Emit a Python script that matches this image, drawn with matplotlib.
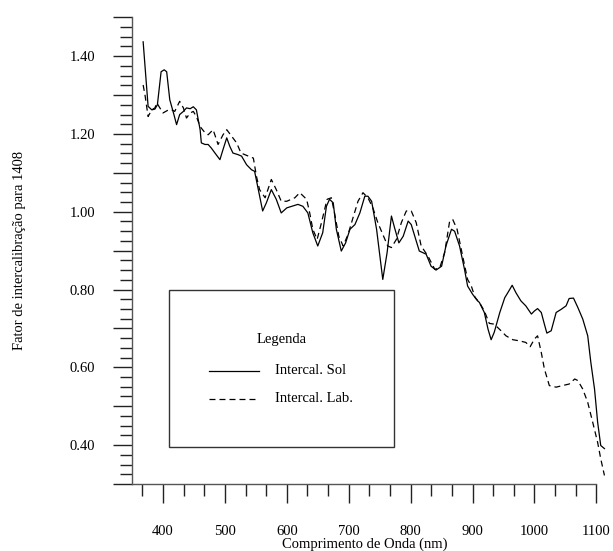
import matplotlib
matplotlib.use("Agg")
import matplotlib.pyplot as plt
import numpy as np
from matplotlib.ticker import FixedLocator, FuncFormatter
from matplotlib.patches import Rectangle
from matplotlib.lines import Line2D

plt.rcParams['font.family'] = ['Liberation Serif', 'DejaVu Serif']
plt.rcParams['lines.scale_dashes'] = False

# Intercal. Sol (solid)
sol_nm = [368, 376, 382, 387, 391, 397, 402, 406, 411, 417, 422, 427, 433, 438, 444, 449, 454, 460, 462,
          468, 473, 478, 484, 492, 497, 503, 508, 513, 521, 527, 535, 543, 548, 554, 561, 567, 575, 583,
          591, 600, 608, 618, 626, 634, 642, 650, 658, 664, 669, 675, 680, 688, 695, 702, 710, 718, 726,
          731, 737, 745, 755, 762, 769, 774, 781, 788, 796, 801, 809, 814, 825, 833, 841, 850, 857, 866,
          871, 879, 887, 892, 900, 908, 911, 919, 925, 930, 935, 944, 952, 957, 964, 970, 978, 986, 995,
          1000, 1005, 1011, 1016, 1020, 1027, 1035, 1043, 1051, 1056, 1063, 1070, 1078, 1086, 1091, 1097,
          1102, 1107, 1113]
sol_val = [1.437, 1.271, 1.262, 1.264, 1.275, 1.36, 1.365, 1.36, 1.288, 1.254, 1.224, 1.25, 1.258, 1.267,
           1.265, 1.27, 1.262, 1.211, 1.177, 1.173, 1.173, 1.164, 1.151, 1.134, 1.16, 1.19, 1.168, 1.151,
           1.147, 1.143, 1.121, 1.108, 1.104, 1.057, 1.002, 1.023, 1.057, 1.032, 0.997, 1.010, 1.014, 1.019,
           1.014, 0.997, 0.946, 0.912, 0.946, 1.014, 1.032, 1.023, 0.955, 0.899, 0.920, 0.955, 0.967, 0.997,
           1.04, 1.04, 1.027, 0.955, 0.826, 0.895, 0.989, 0.959, 0.920, 0.937, 0.976, 0.967, 0.925, 0.899,
           0.891, 0.860, 0.850, 0.860, 0.912, 0.955, 0.950, 0.912, 0.852, 0.809, 0.788, 0.771, 0.767, 0.741,
           0.698, 0.671, 0.690, 0.741, 0.779, 0.792, 0.811, 0.792, 0.771, 0.758, 0.737, 0.745, 0.751, 0.741,
           0.711, 0.688, 0.694, 0.741, 0.749, 0.758, 0.777, 0.778, 0.754, 0.724, 0.681, 0.613, 0.544, 0.459,
           0.399, 0.391]

# Intercal. Lab. (dashed)
lab_nm = [368, 371, 376, 382, 387, 390, 395, 400, 409, 414, 419, 427, 433, 438, 444, 449, 454, 460, 468,
          473, 481, 489, 497, 503, 511, 519, 526, 535, 546, 551, 556, 565, 575, 583, 591, 600, 613, 621,
          632, 637, 642, 649, 656, 665, 672, 677, 684, 691, 699, 707, 715, 723, 731, 739, 747, 755, 763,
          769, 777, 785, 793, 801, 809, 817, 828, 839, 847, 855, 863, 868, 875, 884, 892, 898, 904, 911,
          919, 927, 935, 946, 954, 965, 976, 986, 993, 1000, 1005, 1011, 1016, 1024, 1035, 1045, 1056,
          1065, 1070, 1078, 1086, 1094, 1102, 1107, 1113]
lab_val = [1.326, 1.30, 1.245, 1.262, 1.267, 1.28, 1.267, 1.254, 1.262, 1.262, 1.258, 1.284, 1.267, 1.241,
           1.254, 1.258, 1.245, 1.219, 1.203, 1.198, 1.211, 1.173, 1.198, 1.211, 1.194, 1.177, 1.151, 1.145,
           1.138, 1.091, 1.057, 1.036, 1.083, 1.057, 1.027, 1.027, 1.036, 1.049, 1.032, 0.997, 0.955, 0.929,
           0.972, 1.032, 1.036, 0.997, 0.937, 0.912, 0.942, 0.985, 1.027, 1.049, 1.036, 1.010, 0.972, 0.942,
           0.912, 0.908, 0.929, 0.972, 1.002, 1.002, 0.972, 0.912, 0.886, 0.852, 0.856, 0.895, 0.976, 0.980,
           0.955, 0.886, 0.826, 0.809, 0.78, 0.767, 0.745, 0.713, 0.711, 0.694, 0.681, 0.671, 0.668, 0.664,
           0.653, 0.673, 0.681, 0.638, 0.596, 0.553, 0.549, 0.553, 0.557, 0.570, 0.566, 0.544, 0.510, 0.459,
           0.407, 0.365, 0.322]

y_labels = ["0.40", "0.60", "0.80", "1.00", "1.20", "1.40"]
x_labels = ["400", "500", "600", "700", "800", "900", "1000", "1100"]

FS = 10.5
W, H = 613, 551
fig = plt.figure(figsize=(W / 100, H / 100), dpi=100)
left, right, top, bottom = 132, 606.3, 17.3, 484
ax = fig.add_axes([left / W, 1 - bottom / H, (right - left) / W, (bottom - top) / H])

ax.plot(sol_nm, sol_val, color='black', lw=0.9, solid_joinstyle='round')
ax.plot(lab_nm, lab_val, color='black', lw=0.9, dashes=(4.3, 2.9))

ax.set_xlim(350, 1116)
ax.set_ylim(0.3, 1.5)

for s in ['top', 'right']:
    ax.spines[s].set_visible(False)
for s in ['left', 'bottom']:
    ax.spines[s].set_color('#555555')
    ax.spines[s].set_linewidth(1.0)
ax.spines['bottom'].set_bounds(350, 1100)
ax.spines['left'].set_bounds(0.3, 1.5)

# y ticks
ymaj = np.round(np.arange(0.3, 1.5001, 0.1), 3)
ymin = [v for v in np.round(np.arange(0.3, 1.5001, 0.025), 4) if not np.any(np.isclose(v, ymaj))]
ax.yaxis.set_major_locator(FixedLocator(ymaj))
ax.yaxis.set_minor_locator(FixedLocator(ymin))
lab_map = {round(float(l), 2): l for l in y_labels}
ax.yaxis.set_major_formatter(FuncFormatter(lambda v, p: lab_map.get(round(v, 2), "")))

# x ticks
xmaj = [float(l) for l in x_labels]
xmin = [400 + k * 100 / 3 for k in range(-1, 21) if k % 3 != 0]
ax.xaxis.set_major_locator(FixedLocator(xmaj))
ax.xaxis.set_minor_locator(FixedLocator(xmin))
ax.set_xticklabels(x_labels)

ax.tick_params(axis='both', which='major', direction='out', length=13.7, width=1.0, color='#222222',
               labelsize=FS)
ax.tick_params(axis='both', which='minor', direction='out', length=8.6, width=1.0, color='#222222')
ax.tick_params(axis='y', which='major', pad=13)
ax.tick_params(axis='x', which='major', pad=15.5)

ax.set_xlabel("Comprimento de Onda (nm)", fontsize=FS)
ax.xaxis.set_label_coords((365 - left) / (right - left), -(548 - bottom) / (bottom - top), transform=ax.transAxes)
ax.xaxis.label.set_va('baseline')
ax.set_ylabel("Fator de intercalibração para 1408", fontsize=FS)
ax.yaxis.set_label_coords(-(left - 20) / (right - left), 0.5)
ax.yaxis.label.set_va('center')

# Legend box
def fx(px):
    return (px - left) / (right - left)

def fy(py):
    return (bottom - py) / (bottom - top)

ax.add_patch(Rectangle((fx(169.3), fy(447)), fx(393.8) - fx(169.3), fy(290) - fy(447),
                       transform=ax.transAxes, fill=False, edgecolor='#333333', lw=1.0, zorder=5))
ax.text(fx(281.7), fy(339), "Legenda", transform=ax.transAxes, ha='center', va='center', fontsize=FS)
ax.add_line(Line2D([fx(209.3), fx(258.7)], [fy(370.7), fy(370.7)], transform=ax.transAxes,
                   color='black', lw=0.9))
ax.add_line(Line2D([fx(209.3), fx(258.7)], [fy(399.3), fy(399.3)], transform=ax.transAxes,
                   color='black', lw=0.9, dashes=(4.3, 2.9)))
ax.text(fx(275), fy(370), "Intercal. Sol", transform=ax.transAxes, ha='left', va='center', fontsize=FS)
ax.text(fx(275), fy(399), "Intercal. Lab.", transform=ax.transAxes, ha='left', va='center', fontsize=FS)

fig.savefig("out.png", dpi=100)
